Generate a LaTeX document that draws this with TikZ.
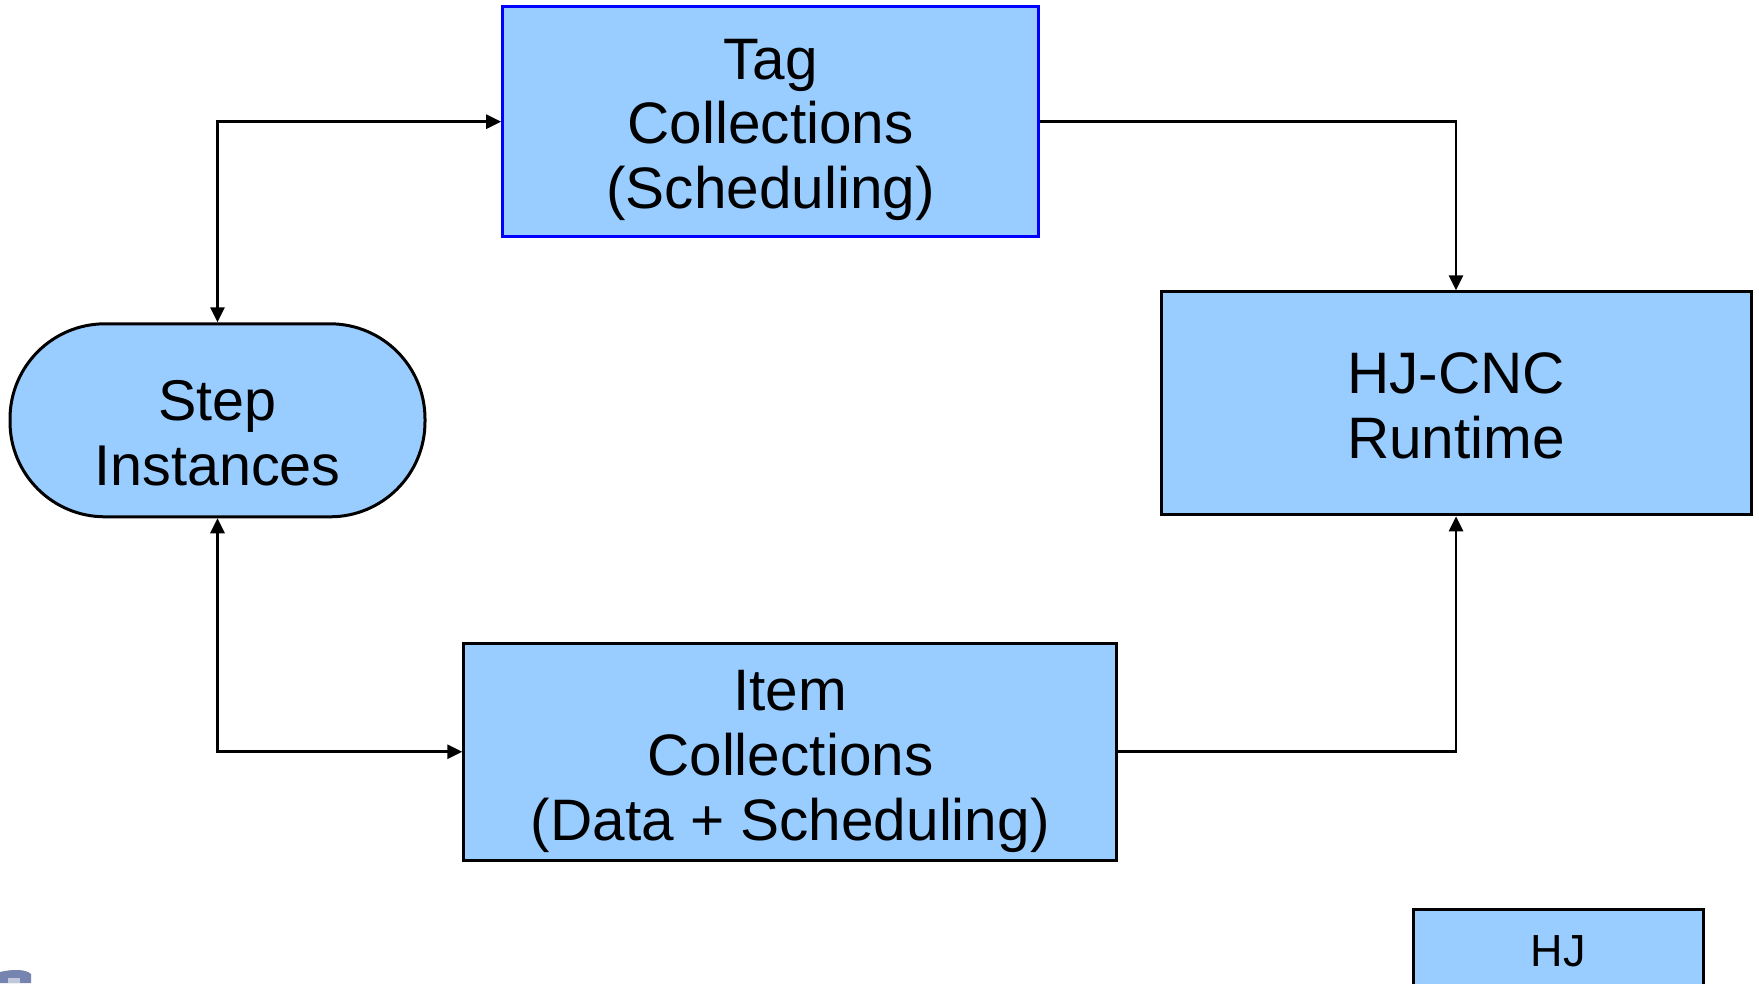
\documentclass[tikz,border=0pt]{standalone}
\usepackage{fontspec}
\setmainfont{Liberation Sans}
\usetikzlibrary{arrows.meta}
\definecolor{boxfill}{HTML}{99CCFF}
\definecolor{logoblue}{HTML}{7585B0}
\tikzset{
  blockbox/.style={draw=black, line width=3pt, fill=boxfill, inner sep=0pt},
  stepshape/.style={blockbox, rounded corners=95pt},
  label text/.style={align=center, inner sep=0pt},
  flow/.style={line width=2.8pt, -{Triangle[length=15pt,width=14pt]}},
  biflow/.style={line width=2.8pt, {Triangle[length=15pt,width=14pt]}-{Triangle[length=15pt,width=14pt]}}
}
\begin{document}
\begin{tikzpicture}[x=1pt, y=-1pt]
\clip (0,0) rectangle (1759,983);
\fill[white] (0,0) rectangle (1759,983);

% boxes
\node[blockbox, draw=blue, minimum width=536pt, minimum height=230pt]
  (tag) at (770.7,121.7) {};
\node[blockbox, minimum width=653pt, minimum height=217pt]
  (item) at (790.3,751.8) {};
\node[blockbox, minimum width=590pt, minimum height=223pt]
  (rt) at (1456,403.3) {};
\node[stepshape, minimum width=415pt, minimum height=193pt]
  (step) at (217.5,420.3) {};
% partial box at the bottom edge
\node[blockbox, minimum width=290pt, minimum height=120pt, anchor=north]
  (hj) at (1558.3,908.3) {};

% box texts
\node[label text, font=\fontsize{58.5}{64.5}\selectfont]
  (tagtext) at (770.7,129.9) {Tag\\Collections\\(Scheduling)};
\node[label text, font=\fontsize{58.5}{65}\selectfont]
  (itemtext) at (790.3,761.8) {Item\\Collections\\(Data + Scheduling)};
\node[label text, font=\fontsize{58.5}{65}\selectfont]
  (rttext) at (1456,406.2) {HJ-CNC\\Runtime};
\node[label text, font=\fontsize{57.5}{65}\selectfont]
  (steptext) at (217.5,432.7) {Step\\Instances};
\node[font=\fontsize{45}{50}\selectfont, anchor=base] (hjtext) at (1558.3,966) {HJ};

% connectors
\draw[biflow] (tag.west) -| (step.north);
\draw[flow] (tag.east) -| (rt.north);
\draw[biflow] (step.south) |- (item.west);
\draw[flow] (item.east) -| (rt.south);

% corner of a logo at the lower edge
\fill[logoblue] (0,972) .. controls (12,969) and (26,969) .. (31,974) -- (31,983) -- (0,983) -- cycle;
\fill[logoblue!45!white] (8,978) rectangle (20,983);
\end{tikzpicture}
\end{document}
